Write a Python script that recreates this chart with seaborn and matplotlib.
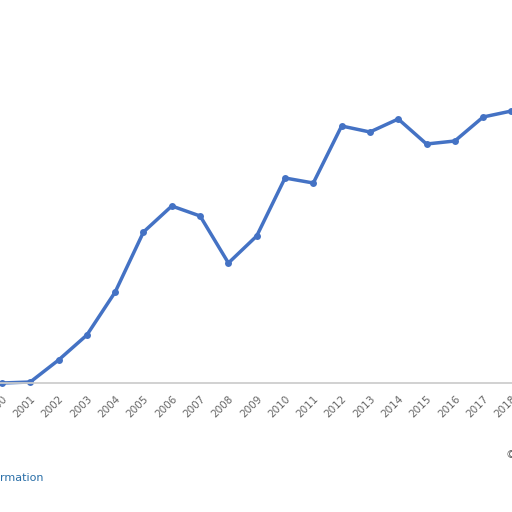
import matplotlib
matplotlib.use("Agg")
import matplotlib.pyplot as plt
import seaborn as sns
import pandas as pd

years = list(range(2000, 2019))
values = [0, 1, 23, 48, 91, 151, 177, 167, 120, 147, 205, 200, 257, 251, 264, 239, 242, 266, 272]

sns.set_theme(style="white")
fig = plt.figure(figsize=(5.12, 5.12), dpi=100)
ax = fig.add_axes([0, 129/512, 1, 383/512])
df = pd.DataFrame({"year": years, "value": values})
sns.lineplot(data=df, x="year", y="value", ax=ax, color="#4472c4", linewidth=2.5,
             marker="o", markersize=5, markeredgewidth=0, clip_on=False)
ax.set_xlim(1999.93, 2018.02)
ax.set_ylim(0, 383)
ax.set_xticks(years)
ax.set_xticklabels([str(y) for y in years], rotation=45, ha="right", rotation_mode="anchor",
                   fontsize=7.5, color="#666666")
ax.tick_params(axis="x", length=0, pad=8)
ax.set_yticks([])
ax.set_xlabel("")
ax.set_ylabel("")
for s in ["top", "left", "right"]:
    ax.spines[s].set_visible(False)
ax.spines["bottom"].set_color("#cccccc")
fig.text(0, 1 - 478/512, "rmation", fontsize=8, color="#2a6fa8", va="center")
fig.text(0.987, 1 - 455/512, "©", fontsize=8, color="#555555", va="center")
fig.savefig("out.png", dpi=100)
